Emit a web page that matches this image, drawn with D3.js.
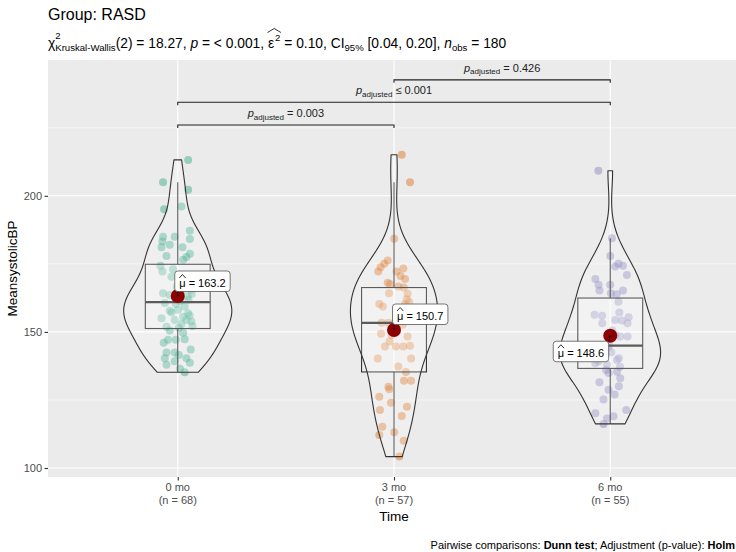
<!DOCTYPE html>
<html>
<head>
<meta charset="utf-8">
<script src="https://cdn.jsdelivr.net/npm/d3@7"></script>
<style>
  body { margin: 0; background: #ffffff; }
  svg { display: block; }
  text { font-family: "Liberation Sans", Arial, Helvetica, sans-serif; white-space: pre; }
</style>
</head>
<body>
<svg id="chart" width="736" height="552"></svg>
<script>
// ---- data -------------------------------------------------------------
const groups = ["0 mo", "3 mo", "6 mo"];

// MeansystolicBP per visit
const sbp0 = [213.2, 205.0, 202.2, 195.1, 196.1, 187.2, 185.0, 185.0, 184.1, 183.2,
  182.0, 181.1, 181.1, 178.7, 177.9, 177.5, 176.5, 174.3, 173.0, 172.2,
  170.3, 169.7, 164.2, 163.6, 160.6, 160.3, 159.3, 157.8, 158.1, 156.9,
  157.1, 155.6, 155.0, 154.4, 153.8, 154.4, 152.9, 151.9, 152.2, 150.5,
  149.7, 147.1, 147.1, 147.3, 142.4, 142.4, 140.3, 140.3, 137.9, 138.7,
  135.2, 139.2, 161.3, 161.8, 162.2, 163.0, 164.0, 165.0, 165.5, 166.5,
  168.0, 170.0, 151.5, 156.0, 141.5, 143.5, 146.0, 136.5];
const sbp3 = [215.1, 205.0, 184.2, 176.2, 173.8, 172.2, 173.3, 172.2, 169.4, 168.1,
  167.6, 166.7, 170.5, 175.0, 164.2, 164.0, 162.0, 160.3, 159.3, 160.3,
  156.9, 153.4, 153.4, 155.0, 156.0, 158.0, 161.0, 166.3, 153.3, 152.6,
  149.3, 148.9, 148.3, 144.6, 144.6, 144.6, 144.9, 140.2, 140.2, 137.3,
  151.0, 146.5, 135.3, 132.1, 132.1, 129.9, 128.9, 124.0, 126.2, 121.3,
  119.1, 115.2, 113.1, 112.1, 104.2, 110.0, 122.5];
const sbp6 = [209.2, 184.4, 177.9, 175.0, 174.3, 174.0, 170.9, 169.4, 167.3, 167.3,
  165.2, 165.2, 164.2, 163.8, 161.1, 157.1, 156.3, 155.9, 155.4, 154.4,
  154.2, 153.2, 153.2, 150.5, 148.9, 148.3, 148.3, 145.0, 137.9, 138.5,
  139.1, 139.7, 140.3, 141.0, 141.8, 142.5, 143.0, 143.6, 144.2, 144.5,
  136.0, 137.2, 135.4, 134.9, 133.0, 130.0, 128.8, 125.2, 121.3, 120.1,
  119.0, 118.2, 116.2, 127.0, 131.5];

// horizontal jitter of each observation (fraction of a category step)
const jit0 = [0.048, -0.068, 0.048, -0.063, 0.017, 0.056, -0.068, -0.014, 0.056, -0.071,
  -0.037, 0.022, -0.075, 0.056, -0.052, 0.040, 0.025, -0.080, -0.022, -0.071,
  -0.029, 0.032, -0.068, -0.037, -0.060, -0.009, 0.032, -0.037, 0.001, 0.048,
  -0.029, 0.025, -0.075, 0.040, 0.063, -0.014, 0.017, -0.052, 0.068, -0.037,
  0.025, -0.045, -0.009, 0.032, -0.052, -0.014, -0.060, 0.040, -0.052, 0.056,
  0.032, -0.014, 0.010, 0.050, -0.010, 0.045, 0.065, 0.020, 0.060, -0.005,
  0.050, 0.070, 0.005, 0.055, 0.005, 0.060, -0.065, 0.010];
const jit3 = [0.036, 0.074, 0.001, -0.029, -0.062, -0.073, 0.043, 0.012, 0.051, -0.029,
  -0.019, 0.020, 0.030, -0.045, -0.023, 0.063, 0.059, -0.068, -0.052, 0.051,
  0.020, -0.057, -0.026, 0.040, 0.065, 0.030, 0.070, 0.045, 0.005, 0.040,
  -0.060, -0.011, 0.063, -0.042, 0.009, 0.043, 0.074, -0.075, 0.079, 0.020,
  -0.010, -0.020, 0.055, 0.046, 0.079, -0.026, -0.022, -0.014, -0.068, -0.065,
  0.036, -0.054, 0.001, -0.068, 0.025, 0.045, 0.060];
const jit6 = [-0.055, 0.008, 0.000, 0.038, 0.059, 0.023, 0.077, -0.069, -0.054, 0.000,
  -0.050, 0.059, 0.003, 0.030, 0.038, 0.042, -0.073, -0.038, 0.085, 0.023,
  0.054, -0.037, 0.080, 0.010, 0.023, 0.046, 0.080, -0.005, -0.015, -0.069,
  -0.054, 0.031, 0.040, -0.060, -0.020, 0.005, -0.045, -0.075, -0.010, -0.035,
  -0.019, 0.045, 0.031, -0.008, 0.046, 0.040, -0.008, -0.031, 0.074, -0.069,
  0.015, -0.015, -0.031, 0.020, -0.050];

const values = [sbp0, sbp3, sbp6];
const jitters = [jit0, jit3, jit6];
const means = [163.2, 150.7, 148.6];
const colors = ["#1B9E77", "#D95F02", "#7570B3"];

// pairwise Dunn comparisons
const pairFrom = ["0 mo", "0 mo", "3 mo"];
const pairTo = ["3 mo", "6 mo", "6 mo"];
const pairLabel = ["= 0.003", "\u2264 0.001", "= 0.426"];
const pairLevel = [226.0, 234.4, 242.6];

const yTicks = [100, 150, 200];
const yMinor = [125, 175, 225];

// ---- layout -----------------------------------------------------------
const svg = d3.select("#chart");
const panel = { left: 48, right: 740, top: 60, bottom: 477 };
const font = '"Liberation Sans", Arial, Helvetica, sans-serif';

const x = d3.scalePoint().domain(groups).range([panel.left, panel.right]).padding(0.6);
const step = x.step();
const y = d3.scaleLinear().domain([96.7, 249.9]).range([panel.bottom, panel.top]);

svg.append("defs").append("clipPath").attr("id", "panel-clip")
  .append("rect").attr("x", panel.left).attr("y", panel.top)
  .attr("width", panel.right - panel.left).attr("height", panel.bottom - panel.top);

// panel background and grid
svg.append("rect").attr("x", panel.left).attr("y", panel.top)
  .attr("width", panel.right - panel.left).attr("height", panel.bottom - panel.top)
  .attr("fill", "#EBEBEB");
const grid = svg.append("g");
grid.selectAll(".minor").data(yMinor).join("line")
  .attr("x1", panel.left).attr("x2", panel.right)
  .attr("y1", d => y(d)).attr("y2", d => y(d))
  .attr("stroke", "#ffffff").attr("stroke-width", 0.55);
grid.selectAll(".major").data(yTicks).join("line")
  .attr("x1", panel.left).attr("x2", panel.right)
  .attr("y1", d => y(d)).attr("y2", d => y(d))
  .attr("stroke", "#ffffff").attr("stroke-width", 1.1);
grid.selectAll(".vmajor").data(groups).join("line")
  .attr("x1", d => x(d)).attr("x2", d => x(d))
  .attr("y1", panel.top).attr("y2", panel.bottom)
  .attr("stroke", "#ffffff").attr("stroke-width", 1.1);

const plot = svg.append("g").attr("clip-path", "url(#panel-clip)");

// ---- jittered observations -------------------------------------------
groups.forEach((g, i) => {
  const pts = values[i].map((v, k) => ({ v, j: jitters[i][k] }));
  plot.append("g").selectAll("circle").data(pts).join("circle")
    .attr("cx", d => x(g) + d.j * step)
    .attr("cy", d => y(d.v))
    .attr("r", 4)
    .attr("fill", colors[i])
    .attr("fill-opacity", 0.4);
});

// ---- boxplots -----------------------------------------------------------
const boxHalf = 0.3 * step / 2;
groups.forEach((g, i) => {
  const s = values[i].slice().sort(d3.ascending);
  const q1 = d3.quantile(s, 0.25), med = d3.quantile(s, 0.5), q3 = d3.quantile(s, 0.75);
  const iqr = q3 - q1;
  const hi = d3.max(s.filter(v => v <= q3 + 1.5 * iqr));
  const lo = d3.min(s.filter(v => v >= q1 - 1.5 * iqr));
  const cx = x(g);
  const b = plot.append("g").attr("stroke", "#333333").attr("fill", "none");
  b.append("line").attr("x1", cx).attr("x2", cx).attr("y1", y(q3)).attr("y2", y(hi)).attr("stroke-width", 1.1);
  b.append("line").attr("x1", cx).attr("x2", cx).attr("y1", y(q1)).attr("y2", y(lo)).attr("stroke-width", 1.1);
  b.append("rect").attr("x", cx - boxHalf).attr("y", y(q3))
    .attr("width", 2 * boxHalf).attr("height", y(q1) - y(q3))
    .attr("fill", "#ffffff").attr("fill-opacity", 0.2).attr("stroke-width", 1.1);
  b.append("line").attr("x1", cx - boxHalf).attr("x2", cx + boxHalf)
    .attr("y1", y(med)).attr("y2", y(med)).attr("stroke-width", 2.2);
});

// ---- violins (gaussian KDE, nrd0 bandwidth, trimmed, area scaled) ------
function bwNrd0(s) {
  const sd = d3.deviation(s);
  const iqr = d3.quantile(s, 0.75) - d3.quantile(s, 0.25);
  const lo = Math.min(sd, iqr / 1.34) || sd || 1;
  return 0.9 * lo * Math.pow(s.length, -0.2);
}
const dens = values.map(v => {
  const s = v.slice().sort(d3.ascending);
  const h = bwNrd0(s);
  const lo = s[0], hi = s[s.length - 1];
  const c = 1 / (s.length * h * Math.sqrt(2 * Math.PI));
  return d3.range(512).map(k => {
    const t = lo + (hi - lo) * k / 511;
    let sum = 0;
    for (const xi of s) { const z = (t - xi) / h; sum += Math.exp(-0.5 * z * z); }
    return { v: t, d: sum * c };
  });
});
const dMax = d3.max(dens, a => d3.max(a, p => p.d));
const violinHalf = 0.5 * step / 2;
groups.forEach((g, i) => {
  const cx = x(g);
  const area = d3.area()
    .x0(p => cx - p.d / dMax * violinHalf)
    .x1(p => cx + p.d / dMax * violinHalf)
    .y(p => y(p.v));
  plot.append("path").datum(dens[i]).attr("d", area)
    .attr("fill", "#ffffff").attr("fill-opacity", 0.2)
    .attr("stroke", "#333333").attr("stroke-width", 1.1)
    .attr("stroke-linejoin", "round");
});

// ---- means and their labels ---------------------------------------------
// label box anchor offsets (px) relative to each mean point
const labelDx = [-3, -1.5, -57];
const labelDy = [-25, -26, 5.5];
groups.forEach((g, i) => {
  const cx = x(g), cy = y(means[i]);
  const lg = svg.append("g");
  const t = lg.append("text")
    .attr("font-size", 11).attr("fill", "#000000")
    .text("\u03BC = " + means[i].toFixed(1));
  const tw = t.node().getComputedTextLength();
  const muW = t.node().getSubStringLength(0, 1);
  const bw = tw + 9, bh = 20.5;
  const bx = cx + labelDx[i], by = cy + labelDy[i];
  const nx = Math.max(bx, Math.min(cx, bx + bw));
  const ny = Math.max(by, Math.min(cy, by + bh));
  svg.insert("line", () => lg.node())
    .attr("x1", cx).attr("y1", cy).attr("x2", nx).attr("y2", ny)
    .attr("stroke", "#000000").attr("stroke-width", 0.8);
  svg.insert("circle", () => lg.node())
    .attr("cx", cx).attr("cy", cy).attr("r", 7).attr("fill", "#8B0000");
  lg.insert("rect", "text").attr("x", bx).attr("y", by).attr("width", bw).attr("height", bh)
    .attr("rx", 3).attr("fill", "#ffffff").attr("stroke", "#555555").attr("stroke-width", 0.8);
  t.attr("x", bx + 4.5).attr("y", by + 16);
  // hat over the mu
  const mx0 = bx + 4.5, mx1 = mx0 + muW;
  lg.append("path")
    .attr("d", `M${mx0},${by + 7}L${(mx0 + mx1) / 2},${by + 3.5}L${mx1},${by + 7}`)
    .attr("fill", "none").attr("stroke", "#000000").attr("stroke-width", 0.8);
  // short leader over the dot
  svg.append("line")
    .attr("x1", cx).attr("y1", cy).attr("x2", cx + (nx - cx) * 0.9).attr("y2", cy + (ny - cy) * 0.9)
    .attr("stroke", "#000000").attr("stroke-width", 0.8);
});

// ---- pairwise comparison brackets ---------------------------------------
pairFrom.forEach((a, i) => {
  const x1 = x(a), x2 = x(pairTo[i]), yy = y(pairLevel[i]);
  svg.append("path")
    .attr("d", `M${x1},${yy + 3}V${yy}H${x2}V${yy + 3}`)
    .attr("fill", "none").attr("stroke", "#222222").attr("stroke-width", 1.1);
  const t = svg.append("text").attr("x", (x1 + x2) / 2).attr("y", yy - 8)
    .attr("text-anchor", "middle").attr("font-size", 11).attr("fill", "#222222");
  t.append("tspan").attr("font-style", "italic").text("p");
  t.append("tspan").attr("font-size", 8).attr("dy", 2.5).text("adjusted");
  t.append("tspan").attr("dy", -2.5).text(" " + pairLabel[i]);
});

// ---- axes ------------------------------------------------------------------
const yAxis = svg.append("g").attr("transform", `translate(${panel.left},0)`)
  .call(d3.axisLeft(y).tickValues(yTicks).tickSize(3.5).tickPadding(2.5));
yAxis.select(".domain").remove();
yAxis.selectAll(".tick line").attr("stroke", "#333333").attr("stroke-width", 1.1);
yAxis.selectAll(".tick text").attr("fill", "#4D4D4D").attr("font-size", 11).attr("font-family", font);

const xAxis = svg.append("g").attr("transform", `translate(0,${panel.bottom})`)
  .call(d3.axisBottom(x).tickSize(3.5).tickFormat(""));
xAxis.select(".domain").remove();
xAxis.selectAll(".tick line").attr("stroke", "#333333").attr("stroke-width", 1.1);
groups.forEach((g, i) => {
  const t = svg.append("text").attr("x", x(g)).attr("text-anchor", "middle")
    .attr("font-size", 11).attr("fill", "#4D4D4D");
  t.append("tspan").attr("x", x(g)).attr("y", 491).text(g);
  t.append("tspan").attr("x", x(g)).attr("y", 503.5).text(`(n = ${values[i].length})`);
});

svg.append("text").attr("x", x("3 mo")).attr("y", 521).attr("text-anchor", "middle")
  .attr("font-size", 13.5).attr("fill", "#000000").text("Time");
svg.append("text").attr("transform", `translate(17,${(panel.top + panel.bottom) / 2}) rotate(-90)`)
  .attr("text-anchor", "middle").attr("font-size", 13.5).attr("fill", "#000000")
  .text("MeansystolicBP");

// ---- title, subtitle, caption -------------------------------------------------
svg.append("text").attr("x", 48).attr("y", 20).attr("font-size", 16).attr("fill", "#000000")
  .text("Group: RASD");

const sub = svg.append("g");
const subBase = 47.5;
const subSize = 13.8, subSmall = 9.6;
let cursor = 48;
function piece(txt, opt = {}) {
  const t = sub.append("text").attr("x", cursor).attr("y", subBase + (opt.shift || 0))
    .attr("font-size", opt.size || subSize).attr("fill", "#000000").text(txt);
  if (opt.italic) t.attr("font-style", "italic");
  const w = t.node().getComputedTextLength();
  if (!opt.hold) cursor += w;
  return { x0: +t.attr("x"), w };
}
piece("\u03C7");
piece("2", { size: subSmall, shift: -9, hold: true });
piece("Kruskal-Wallis", { size: subSmall, shift: 3 });
piece("(2) = 18.27, ");
piece("p", { italic: true });
piece(" = < 0.001, ");
const eps = piece("\u03B5");
cursor += 1;
const sq = piece("2", { size: subSmall, shift: -7 });
const hx0 = eps.x0 - 0.5, hx1 = sq.x0 + sq.w + 0.5;
sub.append("path")
  .attr("d", `M${hx0},${subBase - 15}L${(hx0 + hx1) / 2},${subBase - 19}L${hx1},${subBase - 15}`)
  .attr("fill", "none").attr("stroke", "#000000").attr("stroke-width", 0.8);
piece(" = 0.10, CI");
piece("95%", { size: subSmall, shift: 3 });
piece(" [0.04, 0.20], ");
piece("n", { italic: true });
piece("obs", { size: subSmall, shift: 3 });
piece(" = 180");

const cap = svg.append("text").attr("x", 735).attr("y", 549)
  .attr("text-anchor", "end").attr("font-size", 11).attr("fill", "#000000");
cap.append("tspan").text("Pairwise comparisons: ");
cap.append("tspan").attr("font-weight", "bold").text("Dunn test");
cap.append("tspan").text("; Adjustment (p-value): ");
cap.append("tspan").attr("font-weight", "bold").text("Holm");
</script>
</body>
</html>
